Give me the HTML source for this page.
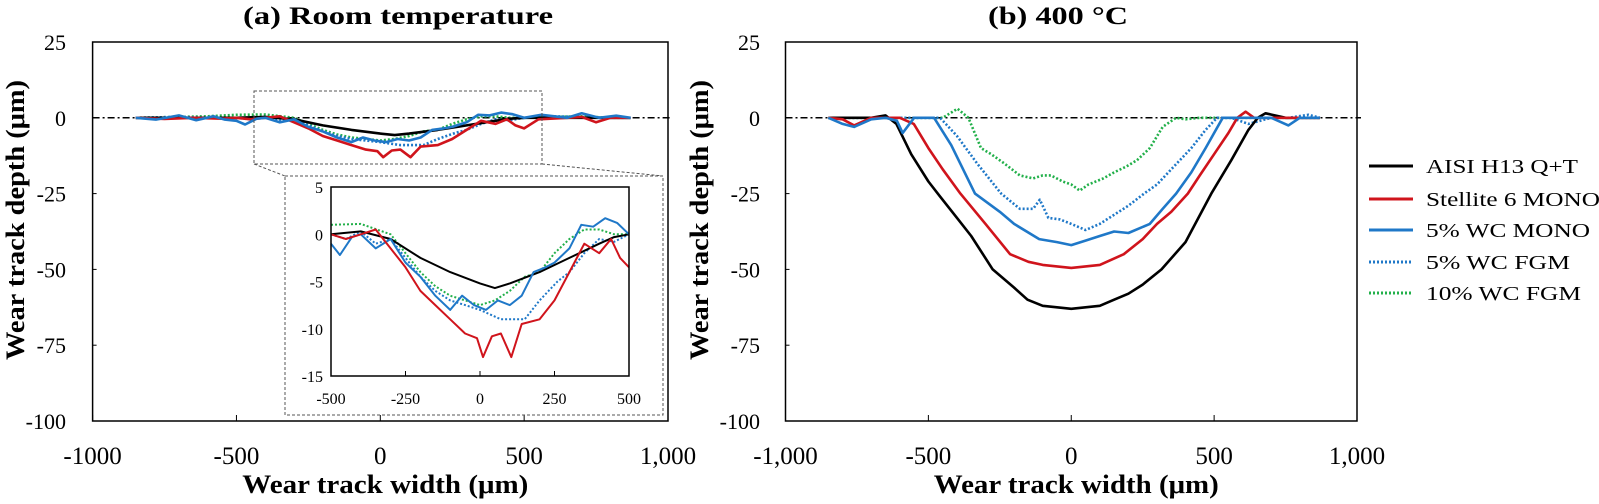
<!DOCTYPE html>
<html><head><meta charset="utf-8"><style>
body{margin:0;background:#fff;}
svg text{font-family:"Liberation Serif",serif;}
</style></head><body>
<svg id="c" width="1599" height="499" viewBox="0 0 1599 499" xmlns="http://www.w3.org/2000/svg">
<g id="a"></g>
<g id="b"></g>
</svg>
<script>
const seriesNames=["AISI H13 Q+T","Stellite 6 MONO","5% WC MONO","5% WC FGM","10% WC FGM"];
const seriesColors=["#000000","#d0141c","#1f78c8","#1f78c8","#22b04a"];
const seriesDash=["","","","2,2","2,2"];
// Room temperature profiles (x in µm, depth in µm)
const rtBlackX=[-850,-700,-600,-500,-400,-300,-200,-100,0,50,100,200,300,400,450,500,600,700,800,870];
const rtBlackY=[0,0,0,0,0.3,-0.5,-2.5,-4,-5.2,-5.7,-5.2,-4,-2.5,-1,-0.3,0,0,0,0,0];
const rtRedX=[-850,-750,-650,-550,-500,-450,-400,-350,-300,-250,-200,-150,-100,-50,-10,10,40,70,105,140,200,250,300,350,400,440,470,500,550,650,700,750,800,870];
const rtRedY=[0,-0.4,0,-0.3,0,-0.5,0,0.5,-1.5,-3.5,-6,-7.5,-9,-10.5,-11,-13,-10.8,-10.5,-13,-9.5,-9,-7,-4,-1,-2,-0.5,-2.5,-3.5,-0.5,0,0.3,-1.5,0,0];
const rtBlueX=[-850,-780,-700,-640,-580,-540,-500,-470,-430,-400,-350,-300,-250,-200,-150,-100,-60,-20,20,60,100,140,180,220,250,300,340,380,420,460,500,560,650,700,760,820,870];
const rtBlueY=[0,-0.6,0.8,-0.8,0.5,-0.6,-1,-2.2,-0.3,0,-1.5,-0.5,-3,-4.5,-6.5,-8,-6.5,-7.5,-8,-7,-7.5,-6.5,-4,-3.5,-3,-1.5,1,0.8,1.7,1.2,0,1,0,1.5,0,0.7,0];
const rtBlueDotX=[-850,-700,-600,-500,-450,-400,-350,-300,-250,-200,-150,-100,-50,0,70,150,200,260,300,350,400,450,500,600,700,800,870];
const rtBlueDotY=[0,0.3,0,0,-0.5,0.3,-1,-0.5,-2.5,-4.5,-6,-7,-7.5,-8,-9,-9,-7,-5,-4,-2,-0.5,-0.8,0,0.5,0.3,0,0];
const rtGreenX=[-850,-700,-600,-500,-400,-300,-250,-200,-150,-100,-50,0,50,100,150,200,250,300,350,400,450,500,600,700,800,870];
const rtGreenY=[0,0.3,0.5,1,1.1,0,-2,-4,-5.5,-6.5,-7,-7.5,-7,-6,-4.5,-4,-2,-0.5,0.5,0.5,0,0,0.3,0.5,0,0];
// 400 °C profiles
const htBlackX=[-850,-700,-650,-612,-560,-500,-459,-400,-350,-275,-200,-153,-100,-50,0,50,100,150,200,250,316,400,490,560,620,653,680,750,870];
const htBlackY=[0,0,0.8,-2,-12,-21,-26,-33,-39,-50,-56,-60,-62,-62.5,-63,-62.5,-62,-60,-58,-55,-50,-41,-25,-14,-4,0,1.5,0,0];
const htRedX=[-850,-800,-760,-700,-600,-551,-500,-450,-388,-300,-214,-150,-100,-50,0,50,100,184,250,300,350,408,450,500,550,581,610,640,700,870];
const htRedY=[0,-0.5,-2.5,0,0,-2,-10,-17,-25,-35,-45,-47.5,-48.5,-49,-49.5,-49,-48.5,-45,-40,-35,-31,-25,-19,-12,-5,0,2,0,0,0];
const htBlueX=[-850,-800,-760,-700,-650,-610,-590,-550,-480,-420,-337,-250,-200,-112,-50,0,50,100,150,200,275,320,367,420,470,530,600,700,760,800,870];
const htBlueY=[0,-2,-3,-0.5,0,-1,-5,0,0,-9,-25,-31,-35,-40,-41,-42,-40.5,-39,-37.5,-38,-35,-30,-25,-18,-10,0,0,0,-2.5,0,0];
const htBlueDotX=[-850,-700,-600,-459,-400,-330,-245,-180,-133,-110,-80,-40,0,50,100,150,200,255,300,360,420,470,510,560,620,700,760,830,870];
const htBlueDotY=[0,0,0,0,-6,-15,-25,-30,-30,-27,-33,-33.5,-35,-37,-35,-32,-29,-25,-22,-16,-10,-4,0,0,-2,0,0,1,0];
const htGreenX=[-850,-700,-600,-450,-398,-360,-316,-280,-235,-180,-133,-100,-71,-30,0,30,60,112,150,194,230,275,320,367,400,450,500,600,700,870];
const htGreenY=[0,0,0,0,3,0,-10,-12,-15,-19,-20,-19,-19,-21,-22,-24,-22,-20,-18,-16,-14,-10,-3,0,-0.5,0,0,0,0,0];
const yTicks=[25,0,-25,-50,-75,-100];
const xTicksA=["-1000","-500","0","500","1,000"];
const xTicksB=["-1,000","-500","0","500","1,000"];
const xTickVals=[-1000,-500,0,500,1000];
const insetXTicks=[-500,-250,0,250,500];
const insetYTicks=[5,0,-5,-10,-15];

const NS="http://www.w3.org/2000/svg";
function el(parent,tag,attrs,text){const e=document.createElementNS(NS,tag);for(const k in attrs)e.setAttribute(k,attrs[k]);if(text!==undefined)e.textContent=text;parent.appendChild(e);return e;}
function lin(d0,d1,r0,r1){return v=>r0+(v-d0)*(r1-r0)/(d1-d0);}

const rtSets=[[rtBlackX,rtBlackY],[rtRedX,rtRedY],[rtBlueX,rtBlueY],[rtBlueDotX,rtBlueDotY],[rtGreenX,rtGreenY]];
const htSets=[[htBlackX,htBlackY],[htRedX,htRedY],[htBlueX,htBlueY],[htBlueDotX,htBlueDotY],[htGreenX,htGreenY]];

function drawSeries(g,sets,xs,ys,w,clip,order){
  order.forEach(i=>{
    const [X,Y]=sets[i];
    let d="";
    X.forEach((x,j)=>{if(clip&&(x<clip[0]||x>clip[1]))return;d+=(d?"L":"M")+xs(x).toFixed(1)+","+ys(Y[j]).toFixed(1);});
    const p=el(g,"path",{d:d,fill:"none",stroke:seriesColors[i],"stroke-width":w,"stroke-dasharray":seriesDash[i],"stroke-linejoin":"round"});
    
    
  });
}

function panel(g,L,R,xLabels,sets,title,titleX,titleLen,ylabX,tickRight,ytLen,xtLen){
  const T=42,B=421;
  const xs=lin(-1000,1000,L,R), ys=lin(25,-100,T,B);
  const t=el(g,"text",{x:titleX,y:24,"text-anchor":"middle","font-size":25,"font-weight":"bold",textLength:titleLen,lengthAdjust:"spacingAndGlyphs"},title);
  
  const f=el(g,"rect",{x:L,y:T,width:R-L,height:B-T,fill:"none",stroke:"#000","stroke-width":1.5});
  
  yTicks.forEach(v=>{const tx=el(g,"text",{x:tickRight,y:ys(v)+8,"text-anchor":"end","font-size":22},String(v));
    
    el(g,"line",{x1:L,x2:L+4,y1:ys(v),y2:ys(v),stroke:"#000"});});
  xTickVals.forEach((v,i)=>{const tx=el(g,"text",{x:xs(v),y:464,"text-anchor":"middle","font-size":25},xLabels[i]);
    
    el(g,"line",{x1:xs(v),x2:xs(v),y1:B,y2:B-6,stroke:"#000"});});
  const xt=el(g,"text",{x:(L+R)/2+5,y:493,"text-anchor":"middle","font-size":26,"font-weight":"bold",textLength:xtLen,lengthAdjust:"spacingAndGlyphs"},"Wear track width (μm)");
  
  const yt=el(g,"text",{x:0,y:0,"text-anchor":"middle","font-size":26,"font-weight":"bold",textLength:ytLen,lengthAdjust:"spacingAndGlyphs",transform:`translate(${ylabX},220) rotate(-90)`},"Wear track depth (μm)");
  
  const z=el(g,"line",{x1:L,x2:R+4,y1:ys(0),y2:ys(0),stroke:"#000","stroke-width":1.5,"stroke-dasharray":"7,3,2,3"});
  
  drawSeries(g,sets,xs,ys,2.6,null,[4,3,0,1,2]);
  return {xs,ys};
}

const ga=document.getElementById('a'), gb=document.getElementById('b');
panel(ga,92.6,668,xTicksA,rtSets,"(a) Room  temperature",398,310,24,66,280,286);
panel(gb,785.5,1357,xTicksB,htSets,"(b) 400 °C",1058,140,708,760,280,285);

const dash={fill:"none",stroke:"#555","stroke-width":1,"stroke-dasharray":"3,2"};
let zb=el(ga,"rect",Object.assign({x:254,y:91,width:288,height:73},dash));

let ib=el(ga,"rect",Object.assign({x:285,y:176,width:378,height:239},dash));ib.setAttribute('fill','#fff');

el(ga,"line",Object.assign({x1:254,y1:164,x2:285,y2:176},dash));
el(ga,"line",Object.assign({x1:542,y1:164,x2:663,y2:176},dash));

const gi=el(ga,"g",{});

const iL=331,iR=629,iT=187,iB=376;
const ixs=lin(-500,500,iL,iR), iys=lin(5,-15,iT,iB);
insetYTicks.forEach(v=>{const t=el(gi,"text",{x:iL-8,y:iys(v)+6,"text-anchor":"end","font-size":16},String(v));
  });
insetXTicks.forEach(v=>{const t=el(gi,"text",{x:ixs(v),y:iB+28,"text-anchor":"middle","font-size":16},String(v));
  
  el(gi,"line",{x1:ixs(v),x2:ixs(v),y1:iB,y2:iB-5,stroke:"#000"});});
drawSeries(gi,rtSets,ixs,iys,2,[-500,500],[4,3,0,2,1]);
const ifr=el(gi,"rect",{x:iL,y:iT,width:iR-iL,height:iB-iT,fill:"none",stroke:"#000","stroke-width":1.5});


const lg=el(gb,"g",{});

const legY=[166,199,230,262,293];
const legLen=[152,174,164,144,155];
seriesNames.forEach((n,i)=>{
  const e=el(lg,"g",{});
  
  
  el(e,"line",{x1:1369,x2:1413,y1:legY[i],y2:legY[i],stroke:seriesColors[i],"stroke-width":3,"stroke-dasharray":seriesDash[i]});
  el(e,"text",{x:1426,y:legY[i]+7,"font-size":20,textLength:legLen[i],lengthAdjust:"spacingAndGlyphs"},n);
});
</script>
</body></html>
